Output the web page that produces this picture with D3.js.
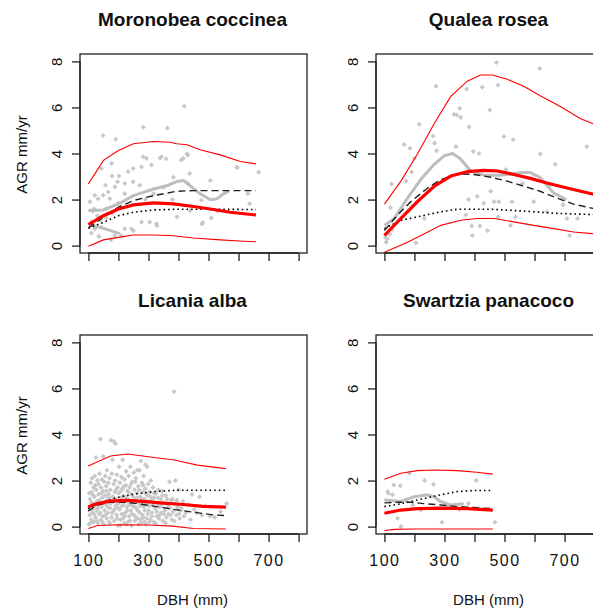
<!DOCTYPE html>
<html><head><meta charset="utf-8">
<script src="https://cdn.jsdelivr.net/npm/d3@7"></script>
<style>body{margin:0;background:#fff}svg{display:block}text{font-family:Arial,"Liberation Sans",sans-serif;fill:#111}</style>
</head><body><svg id="c" width="593" height="610"></svg>
<script>
const speciesNames = ["Moronobea coccinea","Qualea rosea","Licania alba","Swartzia panacoco"];
const xTicks = [100,200,300,400,500,600,700,800];
const xTickLabels = ["100","","300","","500","","700",""];
const yTicks = [0,2,4,6,8];
const yTickLabels = ["0","2","4","6","8"];

// Moronobea coccinea
const moroPoints = [[419,6.05],[283,5.14],[363,5.1],[149,4.78],[191,4.62],[282,3.86],[293,3.79],[343,3.86],[416,3.79],[310,3.5],[277,3.42],[249,3.35],[232,3.21],[177,3.57],[143,3.35],[179,3.02],[202,3.02],[197,2.77],[221,2.7],[188,2.55],[157,2.62],[249,2.77],[271,2.62],[166,2.33],[121,2.19],[149,2.19],[132,2.04],[171,2.04],[221,2.26],[119,1.6],[160,1.6],[304,1.02],[327,0.95],[277,1.02],[110,1.02],[121,0.73],[143,0.8],[221,0.73],[243,0.73],[188,0.44],[210,0.44],[428,3.99],[409,3.72],[359,3.77],[339,3.81],[506,2.83],[594,3.41],[667,3.19],[431,3.93],[437,3.13],[596,3.38],[631,2.26],[637,1.82],[509,1.2],[481,1.0],[476,1.97],[431,2.7],[383,2.97],[350,2.54],[317,2.25],[439,1.52],[478,0.94],[328,0.87],[250,0.65],[105,1.9],[115,1.5],[130,1.3],[140,1.1],[160,1.2],[180,1.4],[200,1.85],[230,1.7],[290,2.0],[380,2.0],[395,1.25],[530,1.5],[110,0.55],[135,0.4],[175,0.25]];
const moroUpper = [[100,2.68],[150,3.7],[200,4.13],[250,4.42],[317,4.52],[372,4.49],[394,4.42],[428,4.38],[472,4.16],[539,3.94],[606,3.65],[658,3.55]];
const moroLower = [[100,-0.03],[150,0.25],[200,0.36],[250,0.46],[317,0.46],[383,0.43],[450,0.33],[539,0.25],[617,0.19],[658,0.17]];
const moroMedian = [[100,0.91],[150,1.3],[200,1.59],[250,1.77],[317,1.86],[383,1.81],[450,1.7],[506,1.59],[572,1.45],[658,1.33]];
const moroDashed = [[100,0.77],[150,1.23],[200,1.67],[250,1.96],[317,2.17],[394,2.36],[450,2.39],[658,2.39]];
const moroDotted = [[100,0.75],[150,1.01],[200,1.3],[250,1.45],[317,1.55],[394,1.58],[658,1.57]];
const moroLowess = [[100,1.52],[150,1.55],[200,1.81],[250,2.17],[317,2.46],[361,2.6],[394,2.78],[417,2.83],[439,2.6],[472,2.25],[506,1.99],[528,2.03],[550,2.25],[567,2.36]];
const moroLowess2 = [[108,0.9],[150,0.75],[205,0.52]];

// Qualea rosea
const qualPoints = [[473,7.95],[617,7.69],[272,6.92],[374,6.8],[426,6.88],[478,6.97],[216,5.27],[332,5.7],[341,5.67],[354,5.57],[351,5.96],[451,5.89],[382,5.15],[262,4.76],[267,4.45],[274,4.12],[166,4.39],[185,4.23],[200,3.78],[498,4.74],[529,4.6],[396,4.09],[415,4.0],[338,4.3],[124,2.68],[120,1.65],[172,2.8],[191,3.2],[454,2.36],[525,1.91],[619,3.98],[669,3.53],[774,4.3],[652,2.65],[409,2.14],[431,1.84],[465,1.91],[481,1.91],[597,1.91],[641,1.47],[695,1.77],[708,1.18],[743,1.18],[717,0.44],[391,0.85],[418,0.85],[443,0.66],[479,1.25],[537,1.25],[520,0.88],[393,0.44],[233,1.18],[205,0.12],[106,0.15],[110,0.3],[118,0.5],[126,0.7],[112,0.55],[104,0.35],[371,1.33],[560,2.7],[505,3.3],[380,2.0]];
const qualUpper = [[100,1.8],[155,2.8],[210,3.98],[266,5.3],[321,6.48],[376,7.14],[420,7.41],[459,7.41],[509,7.22],[564,6.92],[619,6.51],[686,6.04],[752,5.52],[793,5.3],[815,5.18]];
const qualLower = [[100,-0.29],[177,0.15],[233,0.52],[288,0.88],[354,1.1],[409,1.18],[465,1.18],[531,1.03],[597,0.88],[664,0.74],[730,0.59],[793,0.52],[815,0.5]];
const qualMedian = [[100,0.44],[155,1.18],[210,1.91],[266,2.58],[321,3.02],[376,3.21],[431,3.27],[476,3.24],[531,3.09],[586,2.92],[641,2.72],[708,2.5],[793,2.24],[815,2.18]];
const qualDashed = [[100,0.66],[144,1.33],[188,1.91],[244,2.5],[288,2.87],[343,3.12],[398,3.09],[454,2.97],[509,2.8],[564,2.58],[619,2.36],[675,2.06],[730,1.8],[793,1.62],[815,1.58]];
const qualDotted = [[100,0.74],[155,1.1],[210,1.25],[288,1.47],[343,1.58],[454,1.58],[564,1.5],[675,1.4],[793,1.35],[815,1.34]];
const qualLowess = [[100,0.88],[133,1.18],[177,2.06],[221,2.87],[266,3.53],[299,3.9],[327,4.0],[354,3.76],[387,3.24],[431,3.06],[487,3.06],[553,3.17],[586,3.17],[619,2.95],[664,2.28],[706,2.0]];

// Licania alba
const licaPoints = [[102,0.1],[104,0.5],[105,1.2],[106,0.8],[108,1.9],[110,0.3],[111,1.5],[112,2.1],[114,0.6],[115,1.0],[117,1.7],[118,0.2],[120,1.3],[121,2.2],[122,0.9],[124,0.4],[125,3.0],[126,1.6],[128,0.7],[129,1.1],[130,2.0],
[132,0.15],[133,1.4],[134,1.85],[136,0.55],[137,2.3],[138,1.0],[140,3.8],[141,0.3],[142,1.7],[144,0.85],[145,2.05],[146,1.25],[148,0.45],[149,1.55],[150,3.05],[151,0.1],[152,1.95],[154,0.7],[155,1.35],[156,2.2],[158,0.95],[159,1.75],
[161,0.35],[162,2.45],[163,1.15],[165,0.6],[166,1.9],[168,1.4],[169,0.2],[170,2.1],[172,0.8],[173,1.6],[175,3.75],[176,1.05],[177,0.4],[178,2.3],[180,2.9],[181,1.3],[182,0.65],[184,1.85],[185,3.7],[186,0.25],[188,1.5],[189,2.0],[190,3.6],[191,0.9],[193,1.2],[194,0.5],[195,2.25],[197,1.7],[198,0.05],[199,1.0],
[201,1.45],[202,2.6],[204,0.75],[205,1.9],[207,0.3],[208,1.25],[210,2.15],[211,0.55],[213,1.65],[214,2.9],[216,0.95],[217,1.35],[219,0.15],[220,2.05],[222,1.1],[223,0.6],[225,1.8],[226,2.4],[228,0.85],[229,1.55],[231,0.2],[232,1.2],[234,2.2],[235,0.45],[237,1.7],[238,1.0],[240,2.6],[241,0.7],[243,1.4],[244,0.05],[246,1.95],[247,0.9],[249,1.3],
[251,2.35],[252,0.5],[254,1.6],[255,0.25],[257,1.15],[258,2.1],[260,0.8],[262,1.45],[263,2.45],[265,0.35],[266,1.75],[268,1.05],[270,2.45],[271,0.6],[273,1.3],[275,2.85],[276,0.15],[278,1.9],[279,0.95],[281,1.5],[283,0.4],[284,2.2],[286,1.2],[288,0.7],[289,1.65],[290,2.7],[292,0.1],[293,1.0],[295,2.6],[296,1.35],[298,0.55],[299,1.85],
[302,0.9],[304,1.5],[306,0.3],[308,2.0],[310,1.15],[312,0.6],[315,1.7],[317,0.2],[319,1.25],[322,0.8],[325,1.45],[327,0.45],[330,1.0],[333,1.6],[335,0.35],[338,0.85],[341,1.2],[344,0.6],[345,1.55],[348,0.25],
[352,1.05],[355,0.7],[358,1.35],[360,0.4],[363,0.95],[366,0.55],[370,1.95],[372,0.8],[375,1.15],[378,0.3],[382,0.65],[385,5.87],[388,1.0],[390,2.0],[393,0.5],[397,0.85],[400,1.6],[404,0.35],[408,0.7],[410,0.8],[415,1.1],[418,0.45],
[425,0.6],[432,0.95],[440,0.3],[445,1.4],[452,0.75],[460,0.6],[470,1.3],[478,0.5],[490,0.9],[505,0.45],[520,0.4],[540,0.65],[560,1.0],
[103,1.45],[107,0.15],[109,1.05],[113,0.75],[116,1.35],[119,0.55],[123,1.8],[127,0.25],[131,0.8],[135,1.15],[139,0.6],[143,1.45],[147,0.2],[153,1.05],[157,0.5],[160,1.55],[164,0.85],[167,1.25],[171,0.15],[174,1.0],[179,0.6],[183,1.1],[187,0.75],[192,1.6],[196,0.35],[200,0.8],[203,1.15],[206,0.05],[209,1.55],[212,0.9],[215,0.35],[218,1.75],[221,0.45],[224,1.3],[227,0.1],[230,0.7],[233,1.5],[236,0.95],[239,0.25],[242,1.85],[245,0.55],[248,1.1],[253,0.85],[256,1.95],[259,0.4],[261,1.25],[264,0.7],[267,0.1],[269,1.6],[272,0.9],[274,0.3],[277,1.15],[280,0.5],[282,1.8],[285,0.85],[287,0.2],[291,1.45],[294,0.35],[297,1.1],[300,0.7],[303,0.2],[307,1.3],[311,0.45],[314,0.95],[318,1.45],[323,0.15],[328,0.65],[332,1.25],[337,0.5],[342,0.95],[347,1.35],[351,0.55],[357,0.15],[362,1.2],[368,0.85],[374,0.5],[380,1.2],[386,0.25],[395,1.15],[402,0.55]];
const licaUpper = [[99,2.63],[174,3.07],[230,3.15],[319,3.0],[386,2.89],[463,2.67],[558,2.52]];
const licaLower = [[100,-0.08],[130,0.05],[200,0.08],[300,0.07],[380,0.02],[450,-0.08],[558,-0.1]];
const licaMedian = [[99,0.85],[127,0.99],[171,1.11],[227,1.14],[282,1.1],[349,1.02],[416,0.96],[482,0.88],[558,0.85]];
const licaDashed = [[99,0.67],[127,0.92],[171,1.06],[227,1.06],[282,0.96],[338,0.85],[393,0.73],[449,0.63],[515,0.51],[558,0.48]];
const licaDotted = [[99,0.77],[138,1.02],[193,1.26],[260,1.43],[327,1.53],[393,1.58],[558,1.58]];
const licaLowess = [];

// Swartzia panacoco
const swarPoints = [[111,1.52],[131,1.81],[153,1.77],[113,1.45],[127,1.38],[183,2.32],[234,2.0],[263,1.84],[406,2.0],[144,0.36],[155,0.0],[292,0.19],[468,0.19],[221,0.72],[194,0.94],[350,0.75],[120,1.1],[170,1.15],[310,0.9],[380,1.0]];
const swarUpper = [[100,2.06],[155,2.32],[210,2.43],[265,2.46],[342,2.43],[408,2.36],[461,2.28]];
const swarLower = [[100,-0.17],[133,-0.12],[199,-0.1],[461,-0.1]];
const swarMedian = [[100,0.58],[155,0.72],[210,0.78],[287,0.8],[375,0.78],[461,0.72]];
const swarDashed = [[100,1.03],[150,1.06],[190,1.06],[230,1.0],[287,0.94],[342,0.87],[397,0.83],[461,0.78]];
const swarDotted = [[100,0.87],[155,0.99],[210,1.16],[287,1.38],[342,1.52],[397,1.57],[461,1.57]];
const swarLowess = [[100,1.16],[155,1.09],[199,1.3],[243,1.38],[265,1.3],[287,1.09],[320,0.94],[364,0.99]];

const panels = [
  {title:speciesNames[0], col:0,row:0, pts:moroPoints, upper:moroUpper, lower:moroLower, median:moroMedian, dashed:moroDashed, dotted:moroDotted, lowess:[moroLowess,moroLowess2]},
  {title:speciesNames[1], col:1,row:0, pts:qualPoints, upper:qualUpper, lower:qualLower, median:qualMedian, dashed:qualDashed, dotted:qualDotted, lowess:[qualLowess]},
  {title:speciesNames[2], col:0,row:1, pts:licaPoints, upper:licaUpper, lower:licaLower, median:licaMedian, dashed:licaDashed, dotted:licaDotted, lowess:[licaLowess]},
  {title:speciesNames[3], col:1,row:1, pts:swarPoints, upper:swarUpper, lower:swarLower, median:swarMedian, dashed:swarDashed, dotted:swarDotted, lowess:[swarLowess]}
];

const svg = d3.select("#c");
const colX = [80, 376], boxW = 227;
const rowY = [54, 335], boxH = 199;

panels.forEach((p,i)=>{
  const x0 = colX[p.col], y0 = rowY[p.row];
  const x = d3.scaleLinear().domain([72,828]).range([x0, x0+boxW]);
  const y = d3.scaleLinear().domain([-0.32,8.32]).range([y0+boxH, y0]);
  const g = svg.append("g");
  const cid = "clip"+i;
  svg.append("clipPath").attr("id",cid).append("rect").attr("x",x0).attr("y",y0).attr("width",boxW).attr("height",boxH);
  const pg = g.append("g").attr("clip-path",`url(#${cid})`);
  const line = d3.line().x(d=>x(d[0])).y(d=>y(d[1]));
  const sym = d3.symbol().type(d3.symbolSquare).size(13);
  pg.selectAll("path.pt").data(p.pts).join("path").attr("class","pt")
    .attr("transform",d=>`translate(${x(d[0])},${y(d[1])}) rotate(45)`).attr("d",sym).attr("fill","#c8c8c8");
  p.lowess.forEach(l=>{ if(l.length) pg.append("path").attr("d",line(l)).attr("fill","none").attr("stroke","#bebebe").attr("stroke-width",3).attr("stroke-linejoin","round"); });
  pg.append("path").attr("d",line(p.dotted)).attr("fill","none").attr("stroke","#000").attr("stroke-width",1.6).attr("stroke-dasharray","1.6,3");
  pg.append("path").attr("d",line(p.dashed)).attr("fill","none").attr("stroke","#222").attr("stroke-width",1.4).attr("stroke-dasharray","7,4");
  pg.append("path").attr("d",line(p.upper)).attr("fill","none").attr("stroke","#ff0000").attr("stroke-width",1.1);
  pg.append("path").attr("d",line(p.lower)).attr("fill","none").attr("stroke","#ff0000").attr("stroke-width",1.1);
  pg.append("path").attr("d",line(p.median)).attr("fill","none").attr("stroke","#ff0000").attr("stroke-width",3.2).attr("stroke-linejoin","round");

  g.append("rect").attr("x",x0).attr("y",y0).attr("width",boxW).attr("height",boxH).attr("fill","none").attr("stroke","#222").attr("stroke-width",1.3);
  const xa = d3.axisBottom(x).tickValues(xTicks).tickSize(8).tickPadding(10)
     .tickFormat((d,k)=> p.row===1 ? xTickLabels[k] : "");
  const xg = g.append("g").attr("transform",`translate(0,${y0+boxH})`).call(xa);
  xg.select(".domain").attr("stroke","#222").attr("stroke-width",1.3).attr("d",`M${x(100)},0H${x(800)}`);
  xg.selectAll(".tick line").attr("stroke","#222").attr("stroke-width",1.3);
  xg.selectAll(".tick text").attr("font-size",16).attr("fill","#111").attr("font-family","Arial, 'Liberation Sans', sans-serif").attr("letter-spacing","1.5px").attr("dy","0.9em");
  const ya = d3.axisLeft(y).tickValues(yTicks).tickSize(8).tickFormat((d,k)=>yTickLabels[k]);
  const yg = g.append("g").attr("transform",`translate(${x0},0)`).call(ya);
  yg.select(".domain").attr("stroke","#222").attr("stroke-width",1.3).attr("d",`M0,${y(0)}V${y(8)}`);
  yg.selectAll(".tick line").attr("stroke","#222").attr("stroke-width",1.3);
  yg.selectAll(".tick text").attr("x",null).attr("dy",null).attr("text-anchor","middle")
    .attr("transform","translate(-18,0) rotate(-90)").attr("font-size",15).attr("fill","#111")
    .attr("font-family","Arial, 'Liberation Sans', sans-serif");
  svg.append("text").attr("x",x0+boxW/2-1).attr("y",y0-28).attr("text-anchor","middle")
    .attr("font-size",19).attr("font-weight","bold").text(p.title);
  if(p.col===0){
    svg.append("text").attr("transform",`translate(27,${y0+boxH/2+1}) rotate(-90)`).attr("text-anchor","middle")
      .attr("font-size",15).text("AGR mm/yr");
  }
  if(p.row===1){
    svg.append("text").attr("x",x0+boxW/2-1).attr("y",605).attr("text-anchor","middle")
      .attr("font-size",15).text("DBH (mm)");
  }
});
</script></body></html>
